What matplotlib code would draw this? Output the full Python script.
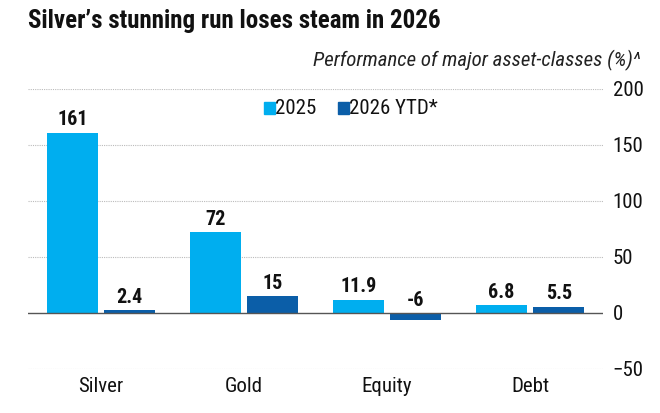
import matplotlib
matplotlib.use("Agg")
import matplotlib.pyplot as plt
import numpy as np
from matplotlib.patches import Rectangle

categories = ["Silver", "Gold", "Equity", "Debt"]
series_2025 = [161, 72, 11.9, 6.8]
series_2026 = [2.4, 15, -6, 5.5]
labels_2025 = ["161", "72", "11.9", "6.8"]
labels_2026 = ["2.4", "15", "-6", "5.5"]
yticks = [-50, 0, 50, 100, 150, 200]

c25 = "#00AEEF"
c26 = "#0B5EA8"
plt.rcParams['font.family'] = ['Roboto Condensed', 'Roboto', 'DejaVu Sans']

fig = plt.figure(figsize=(6.6, 4.13), dpi=100)
ax = fig.add_axes([28/660, 1-369/413, (603-28)/660, (369-89)/413])

x = np.arange(len(categories))
w = 0.357
off = 0.2
ax.bar(x - off, series_2025, w, color=c25, zorder=3)
ax.bar(x + off, series_2026, w, color=c26, zorder=3)

for xi, v, l in zip(x - off, series_2025, labels_2025):
    ax.text(xi, max(v, 0) + 3, l, ha='center', va='bottom', fontsize=14.5, fontweight='bold', color='#111111', zorder=4)
for xi, v, l in zip(x + off, series_2026, labels_2026):
    ax.text(xi, max(v, 0) + 3, l, ha='center', va='bottom', fontsize=14.5, fontweight='bold', color='#111111', zorder=4)

ax.set_xlim(-0.51, 3.51)
ax.set_ylim(-50, 200)
ax.set_yticks(yticks)
ax.yaxis.tick_right()
ax.tick_params(axis='y', length=0, labelsize=15, pad=7, colors='#111111')
ax.set_xticks(x)
ax.set_xticklabels(categories)
ax.tick_params(axis='x', length=0, labelsize=15, pad=6, colors='#111111')
for t in yticks:
    if t != 0:
        ax.axhline(t, color='#bbbbbb', lw=0.8, ls=(0, (1, 1)), zorder=1)
ax.axhline(0, color='#555555', lw=1.0, zorder=4)
for s in ax.spines.values():
    s.set_visible(False)

fig.text(28/660, 1-21/413, "Silver\u2019s stunning run loses steam in 2026", fontsize=18, fontweight='bold', va='center', ha='left', color='#111111')
fig.text(640/660, 1-60/413, "Performance of major asset-classes (%)^", fontsize=15, style='italic', va='center', ha='right', color='#222222')

# legend
ly = 1-108/413
for lx, col, lab in [(264, c25, "2025"), (338, c26, "2026 YTD*")]:
    fig.patches.append(Rectangle((lx/660, ly-6/413), 11/660, 12/413, transform=fig.transFigure, color=col, figure=fig))
    fig.text((lx+11)/660, ly, lab, fontsize=15, va='center', ha='left', color='#111111')

fig.savefig("out.png", dpi=100)
